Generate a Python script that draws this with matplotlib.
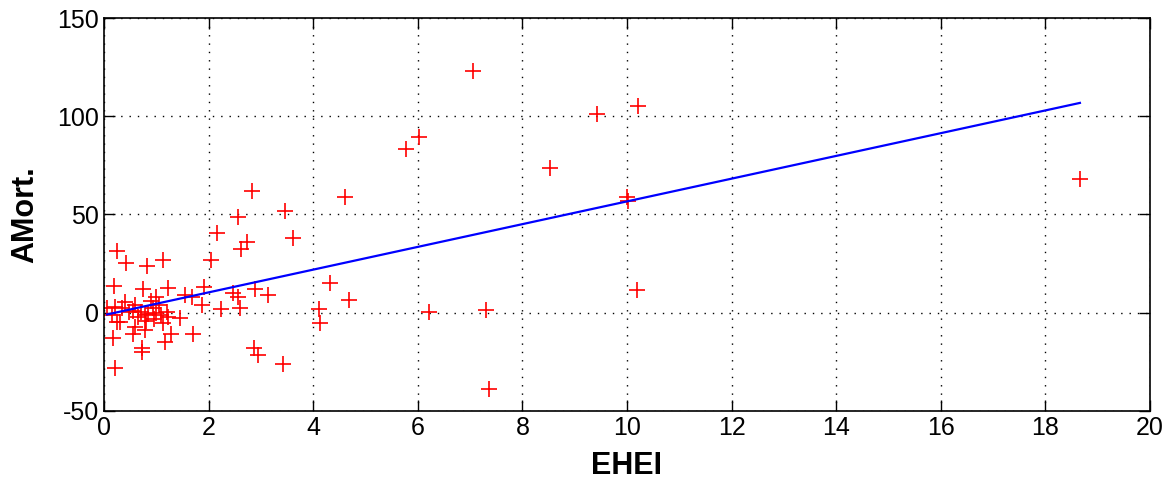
import matplotlib
matplotlib.use("Agg")
import matplotlib.pyplot as plt
import numpy as np

# punkty
ehei = [7.05, 9.42, 10.22, 5.78, 6.03, 8.53, 10.0, 10.02, 18.66, 10.2,
        7.3, 7.36, 6.22, 4.61, 4.69, 4.32, 4.12, 4.14,
        2.84, 3.47, 2.57, 2.17, 3.62, 2.74, 2.62, 0.24, 0.43, 0.82,
        1.12, 2.05, 0.2, 0.75, 1.23, 1.92, 2.89, 3.13, 2.47, 2.57,
        1.55, 1.68, 1.0, 1.87, 2.24, 2.6, 1.45, 1.71, 1.29, 1.17,
        1.13, 0.56, 0.72, 0.72, 0.18, 0.21, 2.86, 2.95, 3.43, 0.21,
        0.05, 0.34, 0.59, 0.94, 0.85, 0.78, 0.66, 0.47, 0.24, 0.59,
        0.78, 1.0, 1.1, 1.23, 0.15, 0.4, 0.9, 1.05, 0.7, 0.55,
        1.2, 0.31, 0.8, 0.95]
amort = [123, 101, 105, 83.5, 89.3, 73.9, 59, 57, 67.9, 11.6,
         1.4, -38.8, 0.6, 59.1, 6.5, 15, 1.9, -5.4,
         62, 52, 48.6, 40.4, 37.9, 36.2, 32.3, 31.6, 25.5, 23.8,
         26.9, 26.9, 13.6, 12, 12.5, 13.3, 12, 9.1, 9.9, 8.2,
         9.1, 8.2, 8.2, 4.0, 1.9, 2.6, -2.8, -10.8, -10.8, -14.7,
         -5.3, -10.8, -18.1, -19.8, -13, -28.3, -18.1, -21.5, -26.1, 3.1,
         2.3, 2.3, 4, 2.3, -0.6, -1.1, -2, 0.6, -4.5, -7.1,
         -8.8, -0.3, -1.1, -2.0, -1, 5.5, 6, 4, 0.5, 1,
         0.5, -4.5, -4, -3]

# linia regresji (końce)
fit_x = [0.06, 18.66]
fit_y = [-0.9, 106.8]

x_ticks = list(range(0, 21, 2))
y_ticks = [-50, 0, 50, 100, 150]

fig = plt.figure(figsize=(11.68, 4.88), dpi=100)
ax = fig.add_axes([0.089, 0.158, 0.8956, 0.805])

ax.plot(ehei, amort, '+', color='red', markersize=12, markeredgewidth=1.2)
ax.plot(fit_x, fit_y, '-', color='blue', linewidth=1.6)

ax.set_xlim(0, 20)
ax.set_ylim(-50, 150)
ax.set_xticks(x_ticks)
ax.set_yticks(y_ticks)

tick_font = ['Liberation Sans Narrow', 'Liberation Sans', 'DejaVu Sans']
ax.set_xticklabels([str(t) for t in x_ticks], family=tick_font, fontsize=18)
ax.set_yticklabels([str(t) for t in y_ticks], family=tick_font, fontsize=18)

ax.grid(True, linestyle=(0, (1, 5)), color='black', linewidth=1.0)
ax.tick_params(direction='in', length=8, top=True, right=True, width=1)
for s in ax.spines.values():
    s.set_linewidth(1.2)

ax.set_xlabel("EHEI", fontsize=22, fontweight='bold',
              family=['Liberation Sans', 'DejaVu Sans'], labelpad=8)
ax.set_ylabel("AMort.", fontsize=22, fontweight='bold',
              family=['Liberation Sans', 'DejaVu Sans'], labelpad=12)

fig.savefig("out.png", dpi=100)
